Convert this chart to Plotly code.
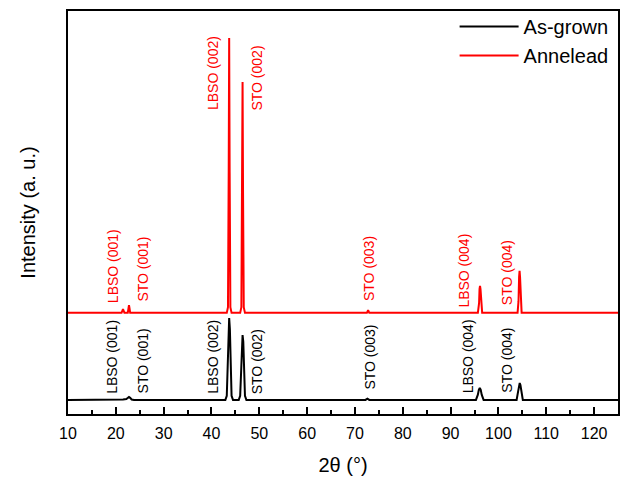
import plotly.graph_objects as go

# As-grown pattern (2theta, intensity a.u.)
asgrown_x = [10, 21.0, 21.5, 22.2, 22.5, 22.75, 23.0, 23.3, 23.8,
             42.9, 43.2, 43.4, 43.55, 43.7, 43.85, 44.0, 44.2, 44.5,
             45.7, 46.0, 46.2, 46.35, 46.5, 46.65, 46.8, 47.0, 47.3,
             72.2, 72.6, 73.0,
             95.3, 95.7, 95.9, 96.1, 96.3, 96.5, 96.9,
             103.8, 104.1, 104.3, 104.45, 104.6, 104.8, 105.1,
             125]
asgrown_y = [3.5, 3.5, 3.6, 3.7, 4.0, 4.2, 4.0, 3.6, 3.5,
             3.5, 4.5, 12, 21, 23.8, 21, 12, 4.5, 3.5,
             3.5, 4.5, 11, 18, 19.6, 18, 11, 4.5, 3.5,
             3.5, 3.8, 3.5,
             3.5, 4.8, 6.0, 6.45, 6.0, 4.8, 3.5,
             3.5, 5.5, 7.2, 7.7, 7.2, 5.5, 3.5,
             3.5]

# Annealed pattern
anneal_x = [10, 21.2, 21.5, 21.8, 22.5, 22.65, 22.75, 22.85, 23.0,
            43.2, 43.45, 43.6, 43.7, 43.8, 43.95, 44.2,
            46.0, 46.25, 46.4, 46.5, 46.6, 46.75, 47.0,
            72.5, 72.75, 73.0,
            95.7, 95.95, 96.05, 96.15, 96.25, 96.4, 96.6,
            104.0, 104.2, 104.32, 104.42, 104.52, 104.64, 104.85,
            125]
anneal_y = [25.1, 25.1, 26.0, 25.1, 25.1, 26.3, 27.0, 26.3, 25.1,
            25.1, 26.5, 60, 93.3, 60, 26.5, 25.1,
            25.1, 26.5, 55, 82.4, 55, 26.5, 25.1,
            25.1, 25.8, 25.1,
            25.1, 27.5, 31, 31.8, 31, 27.5, 25.1,
            25.1, 28, 34, 35.5, 34, 28, 25.1,
            25.1]

# Peak labels: (text, x, y-bottom)
anneal_labels = [("LBSO (001)", 19.4, 27.0), ("STO (001)", 25.7, 27.3),
                 ("LBSO (002)", 40.3, 74.9), ("STO (002)", 49.5, 74.9),
                 ("STO (003)", 72.8, 27.5), ("LBSO (004)", 92.8, 25.9),
                 ("STO (004)", 101.8, 26.4)]
asgrown_labels = [("LBSO (001)", 19.2, 4.5), ("STO (001)", 25.7, 4.5),
                  ("LBSO (002)", 40.3, 4.5), ("STO (002)", 49.5, 4.5),
                  ("STO (003)", 73.2, 5.5), ("LBSO (004)", 93.7, 4.7),
                  ("STO (004)", 101.6, 4.7)]

FONT = "Arial, Liberation Sans, sans-serif"

fig = go.Figure()
fig.add_trace(go.Scatter(x=asgrown_x, y=asgrown_y, mode="lines", name="As-grown",
                         line=dict(color="black", width=2)))
fig.add_trace(go.Scatter(x=anneal_x, y=anneal_y, mode="lines", name="Annelead",
                         line=dict(color="#ff0000", width=2)))

for txt, x, y in anneal_labels:
    fig.add_annotation(x=x, y=y, text=txt, textangle=-90, showarrow=False,
                       xanchor="center", yanchor="bottom",
                       font=dict(family=FONT, size=14, color="#ff0000"))
for txt, x, y in asgrown_labels:
    fig.add_annotation(x=x, y=y, text=txt, textangle=-90, showarrow=False,
                       xanchor="center", yanchor="bottom",
                       font=dict(family=FONT, size=14, color="black"))

fig.update_layout(
    width=624, height=477,
    margin=dict(l=68, r=6, t=11, b=63, autoexpand=False),
    paper_bgcolor="white", plot_bgcolor="white",
    font=dict(family=FONT, color="black"),
    showlegend=True,
    legend=dict(x=0.992, y=1.01, xanchor="right", yanchor="top",
                bgcolor="rgba(0,0,0,0)", font=dict(size=20, family=FONT),
                itemwidth=59, tracegroupgap=0),
)
fig.update_xaxes(range=[10, 125], dtick=10, tick0=10, ticks="inside", ticklen=7,
                 tickwidth=1.5, tickcolor="black", automargin=False,
                 ticklabelstandoff=4,
                 minor=dict(dtick=5, ticks="inside", ticklen=4, tickwidth=1.5, tickcolor="black"),
                 showline=True, linecolor="black", linewidth=2, mirror=True,
                 showgrid=False, zeroline=False,
                 tickfont=dict(size=16, family=FONT),
                 title=dict(text="2θ (°)", font=dict(size=20, family=FONT), standoff=17))
fig.update_yaxes(range=[0, 100], showticklabels=False, ticks="", automargin=False,
                 showline=True, linecolor="black", linewidth=2, mirror=True,
                 showgrid=False, zeroline=False,
                 title=dict(text="Intensity (a. u.)", font=dict(size=20, family=FONT), standoff=25))

fig.write_html("out.html", config={"displayModeBar": False},
               post_script="document.body.style.margin='0';document.body.style.padding='0';")
